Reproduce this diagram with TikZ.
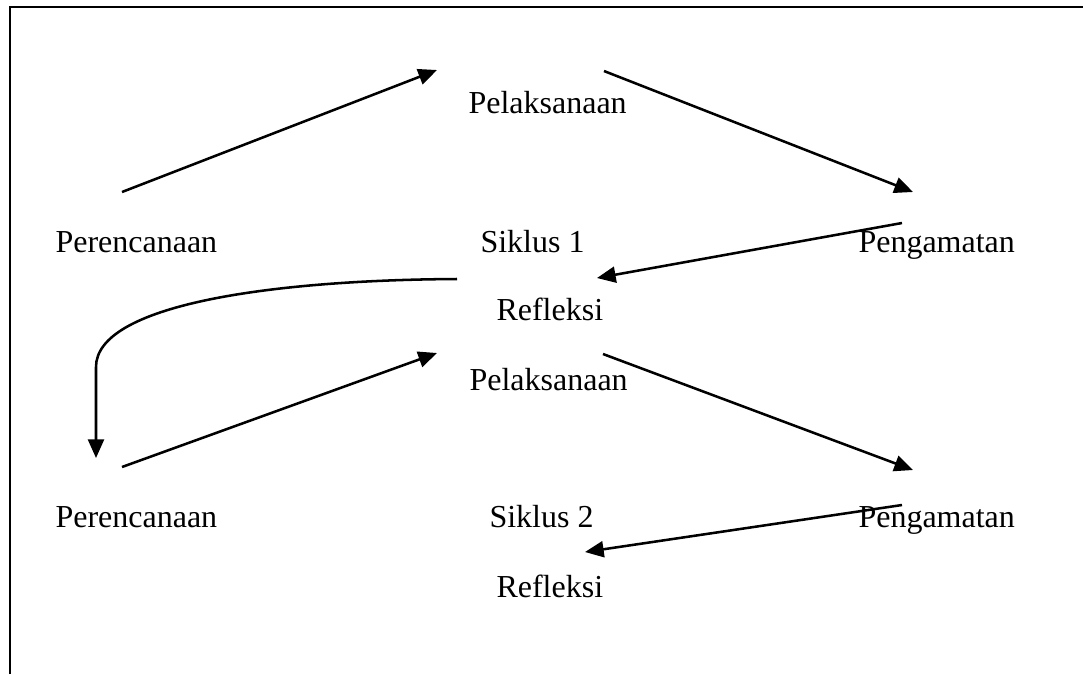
\documentclass[tikz,border=0pt]{standalone}
\usepackage{fontspec}
\setmainfont{Liberation Serif}
\usetikzlibrary{arrows.meta}
\begin{document}
\begin{tikzpicture}[x=0.375pt,y=-0.375pt,
  lbl/.style={anchor=base west,inner sep=0pt,font=\fontsize{12}{14}\selectfont},
  arr/.style={line width=0.95pt,-{Triangle[length=7pt,width=6pt]}},
  frame/.style={line width=0.85pt}]
\useasboundingbox (0,0) rectangle (1083,674);
% page frame (only top and left edges visible)
\coordinate (fbl) at (10,674);
\coordinate (ftl) at (10,7);
\coordinate (ftr) at (1083,7);
\draw[frame] (fbl) -- (ftl) -- (ftr);
% labels, cycle 1
\node[lbl] (pel1) at (468,113) {Pelaksanaan};
\node[lbl] (per1) at (55,252) {Perencanaan};
\node[lbl] (sik1) at (480,252) {Siklus 1};
\node[lbl] (pen1) at (858,252) {Pengamatan};
\node[lbl] (ref1) at (496,320) {Refleksi};
% labels, cycle 2
\node[lbl] (pel2) at (469,390) {Pelaksanaan};
\node[lbl] (per2) at (55,527) {Perencanaan};
\node[lbl] (sik2) at (489,527) {Siklus 2};
\node[lbl] (pen2) at (858,527) {Pengamatan};
\node[lbl] (ref2) at (496,597) {Refleksi};
% arrow end points
\coordinate (a1s) at (122,192); \coordinate (a1e) at (437,70);
\coordinate (a2s) at (604,71);  \coordinate (a2e) at (913,192);
\coordinate (a3s) at (902,223); \coordinate (a3e) at (597,278);
\coordinate (a4s) at (457,279); \coordinate (a4c) at (96,367); \coordinate (a4e) at (96,458);
\coordinate (b1s) at (122,467); \coordinate (b1e) at (437,353);
\coordinate (b2s) at (603,354); \coordinate (b2e) at (913,470);
\coordinate (b3s) at (902,505); \coordinate (b3e) at (585,552);
% connectors
\draw[arr] (a1s) -- (a1e);
\draw[arr] (a2s) -- (a2e);
\draw[arr] (a3s) -- (a3e);
\draw[arr] (a4s) .. controls (270,280) and (96,305) .. (a4c) -- (a4e);
\draw[arr] (b1s) -- (b1e);
\draw[arr] (b2s) -- (b2e);
\draw[arr] (b3s) -- (b3e);
\end{tikzpicture}
\end{document}
